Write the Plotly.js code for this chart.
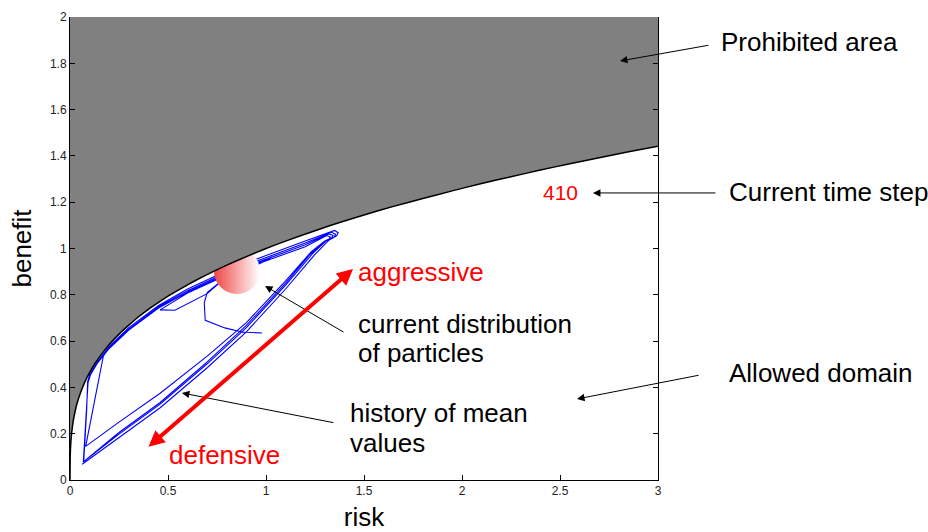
<!DOCTYPE html>
<html>
<head>
<meta charset="utf-8">
<script src="https://cdn.plot.ly/plotly-3.0.1.min.js"></script>
<style>html,body{margin:0;padding:0;background:#fff;}#chart{width:928px;height:532px;}</style>
</head>
<body>
<div id="chart"></div>
<script>
// Boundary between allowed and prohibited regions
var boundaryRisk = [0, 0.0005, 0.001, 0.002, 0.004, 0.007, 0.01, 0.015, 0.02, 0.03, 0.04, 0.055, 0.07, 0.085, 0.1,
  0.125, 0.15, 0.175, 0.2, 0.25, 0.3, 0.35, 0.4, 0.45, 0.5, 0.575, 0.65, 0.725, 0.8, 0.9, 1.0, 1.1, 1.25, 1.4, 1.5,
  1.65, 1.8, 1.95, 2.1, 2.25, 2.4, 2.55, 2.7, 2.85, 3.0];
var boundaryBenefit = [0, 0.08, 0.10, 0.126, 0.159, 0.191, 0.215, 0.247, 0.271, 0.311, 0.342, 0.380, 0.412, 0.440, 0.464,
  0.500, 0.531, 0.559, 0.585, 0.630, 0.669, 0.705, 0.737, 0.766, 0.794, 0.831, 0.866, 0.898, 0.928, 0.965, 1.0, 1.032, 1.077, 1.119, 1.145,
  1.182, 1.216, 1.249, 1.281, 1.310, 1.339, 1.366, 1.392, 1.418, 1.442];

// History of mean values (blue trajectory)
var historyRisk = [
  0.062, 0.25, 0.46, 0.70, 0.90, 1.10, 1.25, 1.32, 1.36, 1.368, 1.35,
  1.2, 1.0, 0.8, 0.6, 0.45, 0.3, 0.2, 0.14, 0.1, 0.09, 0.085, 0.075, 0.07,
  0.25, 0.46, 0.70, 0.90, 1.10, 1.24, 1.31, 1.348, 1.355, 1.335,
  1.2, 1.0, 0.8, 0.6, 0.45, 0.3, 0.2, 0.17, 0.08,
  0.25, 0.46, 0.70, 0.90, 1.10, 1.23, 1.30, 1.335, 1.342, 1.32,
  1.2, 1.0, 0.8, 0.6, 0.45, 0.3, 0.2, 0.14, 0.105, 0.092, 0.08, 0.07, 0.068,
  0.25, 0.46, 0.70, 0.90, 1.10, 1.22, 1.29, 1.322, 1.328, 1.31,
  1.2, 1.0, 0.8, 0.6, 0.46,
  0.535, 0.70, 0.76, 0.95, 1.03, 1.0, 0.85, 0.75, 0.70, 0.685, 0.69, 0.79, 0.877, 0.98
];
var historyBenefit = [
  0.068, 0.185, 0.312, 0.485, 0.64, 0.825, 0.975, 1.035, 1.055, 1.068, 1.078,
  1.032, 0.97, 0.904, 0.825, 0.753, 0.658, 0.577, 0.511, 0.455, 0.425, 0.3, 0.15, 0.08,
  0.198, 0.328, 0.502, 0.658, 0.842, 0.98, 1.035, 1.05, 1.062, 1.07,
  1.024, 0.962, 0.897, 0.818, 0.747, 0.652, 0.572, 0.535, 0.145,
  0.25, 0.375, 0.535, 0.68, 0.86, 0.985, 1.033, 1.046, 1.057, 1.063,
  1.016, 0.955, 0.891, 0.812, 0.742, 0.648, 0.568, 0.505, 0.455, 0.42, 0.25, 0.13, 0.078,
  0.205, 0.335, 0.51, 0.668, 0.85, 0.97, 1.025, 1.04, 1.05, 1.056,
  1.008, 0.948, 0.885, 0.808, 0.735,
  0.733, 0.805, 0.85, 0.935, 0.963, 0.948, 0.885, 0.845, 0.81, 0.765, 0.69, 0.657, 0.639, 0.635
];

// Current distribution of particles (centre of the cloud)
var particleRisk = [0.852];
var particleBenefit = [0.903];

// Axis ticks
var xTickVals = [0, 0.5, 1, 1.5, 2, 2.5, 3];
var xTickText = ['0', '0.5', '1', '1.5', '2', '2.5', '3'];
var yTickVals = [0, 0.2, 0.4, 0.6, 0.8, 1, 1.2, 1.4, 1.6, 1.8, 2];
var yTickText = ['0', '0.2', '0.4', '0.6', '0.8', '1', '1.2', '1.4', '1.6', '1.8', '2'];

var timeStep = '410';
var xMax = 3, yMax = 2;

var FONT = 'Liberation Sans, Arial, sans-serif';
var TS = 26;

var traces = [
  {x: historyRisk, y: historyBenefit, mode: 'lines', line: {color: '#0000ff', width: 1.1}, hoverinfo: 'skip'},
  {x: particleRisk, y: particleBenefit, mode: 'markers', hoverinfo: 'skip',
   marker: {size: 46, color: 'rgb(240,70,70)', line: {width: 0}, gradient: {type: 'horizontal', color: '#ffffff'}}},
  {x: boundaryRisk.concat([xMax, 0]), y: boundaryBenefit.concat([yMax, yMax]), mode: 'lines', fill: 'toself',
   fillcolor: '#808080', line: {width: 0, color: '#808080'}, hoverinfo: 'skip'},
  {x: boundaryRisk, y: boundaryBenefit, mode: 'lines', line: {color: '#000000', width: 1.5, shape: 'spline', smoothing: 0.6}, hoverinfo: 'skip'}
];

function px2paperX(p){ return (p - 70) / 588; }
function px2paperY(p){ return (480 - p) / 463; }

var black = '#000000';
function label(x, y, txt, color, xanchor, size, ref) {
  var a = {x: x, y: y, xanchor: xanchor || 'left', yanchor: 'middle', showarrow: false, text: txt,
           font: {family: FONT, size: size || TS, color: color || black}};
  if (ref) { a.xref = 'paper'; a.yref = 'paper'; }
  return a;
}
function pointer(x, y, ax, ay) {
  return {x: x, y: y, ax: ax, ay: ay, text: '', showarrow: true, arrowhead: 2, arrowsize: 1.5, arrowwidth: 1, arrowcolor: black};
}

var annotations = [
  label(px2paperX(719), px2paperY(42), 'Prohibited area', black, 'left', TS, true),
  label(px2paperX(727), px2paperY(192), 'Current time step', black, 'left', TS, true),
  label(px2paperX(727), px2paperY(373), 'Allowed domain', black, 'left', TS, true),
  label(2.5, 1.244, timeStep, '#ff0000', 'center', 21),
  label(1.459, 0.898, 'aggressive', '#ff0000'),
  label(0.495, 0.108, 'defensive', '#ff0000'),
  label(1.459, 0.672, 'current distribution'),
  label(1.459, 0.548, 'of particles'),
  label(1.418, 0.289, 'history of mean'),
  label(1.418, 0.159, 'values'),
  pointer(2.806, 1.810, 90, -16),
  pointer(2.668, 1.240, 124, 0),
  pointer(2.587, 0.350, 123, -24),
  pointer(0.995, 0.838, 80, 47),
  pointer(0.571, 0.376, 153, 30),
  {x: 1.444, y: 0.911, axref: 'x', ayref: 'y', ax: 0.393, ay: 0.138, text: '', showarrow: true,
   arrowside: 'end+start', arrowhead: 2, startarrowhead: 2, arrowsize: 0.8, startarrowsize: 0.8, arrowwidth: 4, arrowcolor: '#ff0000'}
];

var layout = {
  width: 928, height: 532,
  margin: {l: 70, r: 270, t: 17, b: 52},
  paper_bgcolor: '#ffffff', plot_bgcolor: '#ffffff',
  showlegend: false,
  font: {family: FONT, color: black},
  xaxis: {range: [0, xMax], tickvals: xTickVals, ticktext: xTickText, ticks: 'inside', ticklen: 5, tickcolor: black,
          showline: true, linecolor: black, linewidth: 1, showgrid: false, zeroline: false, fixedrange: true,
          tickfont: {family: FONT, size: 12, color: '#222222'},
          title: {text: 'risk', font: {family: FONT, size: TS, color: black}, standoff: 11}},
  yaxis: {range: [0, yMax], tickvals: yTickVals, ticktext: yTickText, ticks: 'inside', ticklen: 5, tickcolor: black,
          showline: true, mirror: 'ticks', linecolor: black, linewidth: 1, showgrid: false, zeroline: false, fixedrange: true,
          tickfont: {family: FONT, size: 12, color: '#222222'},
          title: {text: 'benefit', font: {family: FONT, size: TS, color: black}, standoff: 10}},
  annotations: annotations
};

Plotly.newPlot('chart', traces, layout, {displayModeBar: false, staticPlot: true});
</script>
</body>
</html>
